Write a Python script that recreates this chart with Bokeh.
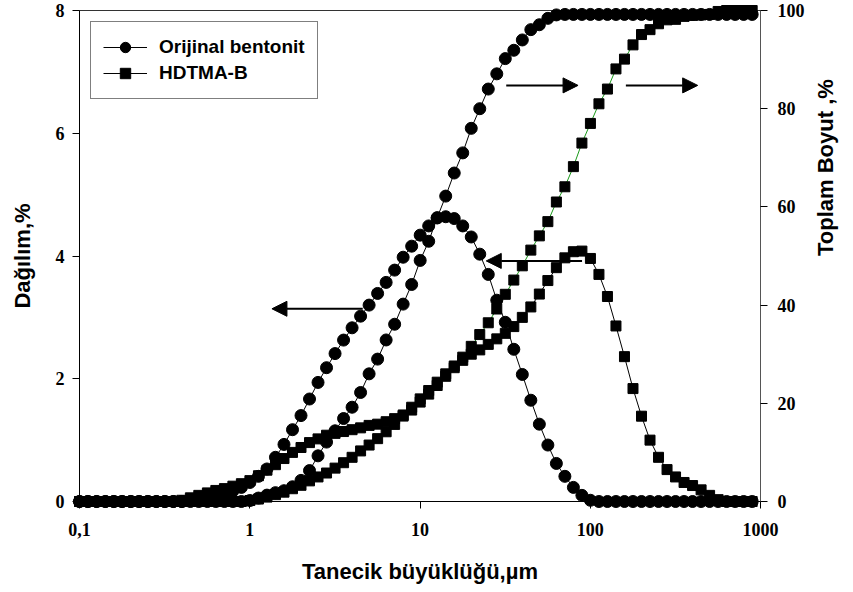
import math
from bokeh.plotting import figure
from bokeh.models import (Range1d, LinearAxis, FixedTicker, Arrow, NormalHead,
                          Legend, LegendItem, ColumnDataSource)
from bokeh.embed import file_html
from bokeh.resources import INLINE

# particle size classes (µm)
sizes = [0.100, 0.112, 0.126, 0.142, 0.159, 0.178, 0.200, 0.224, 0.252, 0.283,
         0.317, 0.356, 0.399, 0.448, 0.502, 0.564, 0.632, 0.710, 0.796, 0.893,
         1.002, 1.125, 1.262, 1.416, 1.589, 1.783, 2.000, 2.244, 2.518, 2.825,
         3.170, 3.557, 3.991, 4.477, 5.024, 5.637, 6.325, 7.096, 7.962, 8.934,
         10.024, 11.247, 12.619, 14.159, 15.887, 17.825, 20.000, 22.440, 25.179, 28.251,
         31.698, 35.566, 39.905, 44.774, 50.238, 56.368, 63.246, 70.963, 79.621, 89.337,
         100.237, 112.468, 126.191, 141.589, 158.866, 178.250, 200.000, 224.404, 251.785, 282.508,
         316.979, 355.656, 399.052, 447.744, 502.377, 563.677, 632.456, 709.627, 796.214, 893.367]

# Orijinal bentonit – distribution (%), left axis
orijinal_dist = [0, 0, 0, 0, 0, 0, 0, 0, 0, 0,
                 0, 0, 0, 0.02, 0.05, 0.08, 0.11, 0.14, 0.17, 0.23,
                 0.31, 0.41, 0.53, 0.72, 0.93, 1.17, 1.40, 1.67, 1.94, 2.18,
                 2.41, 2.63, 2.83, 3.02, 3.20, 3.39, 3.57, 3.77, 3.98, 4.16,
                 4.34, 4.49, 4.62, 4.64, 4.61, 4.49, 4.31, 4.03, 3.70, 3.28,
                 2.92, 2.48, 2.07, 1.65, 1.26, 0.92, 0.62, 0.41, 0.23, 0.10,
                 0.02, 0, 0, 0, 0, 0, 0, 0, 0, 0,
                 0, 0, 0, 0, 0, 0, 0, 0, 0, 0]

# Orijinal bentonit – cumulative (%), right axis
orijinal_cum = [0, 0, 0, 0, 0, 0, 0, 0, 0, 0,
                0, 0, 0, 0, 0, 0, 0, 0, 0, 0,
                0.2, 0.7, 1.3, 1.8, 2.2, 3.0, 4.3, 6.3, 9.3, 12.1,
                14.4, 16.9, 19.2, 22.2, 26.0, 29.0, 32.9, 36.1, 40.2, 44.2,
                49.1, 53.0, 57.8, 62.2, 66.9, 71.0, 76.0, 80.0, 84.0, 87.1,
                90.2, 91.9, 94.0, 96.1, 97.1, 98.4, 99.1, 99.2, 99.2, 99.2,
                99.2, 99.2, 99.2, 99.2, 99.2, 99.2, 99.2, 99.2, 99.2, 99.2,
                99.2, 99.2, 99.2, 99.2, 99.2, 99.2, 99.2, 99.2, 99.2, 99.2]

# HDTMA-B – distribution (%), left axis
hdtma_dist = [0, 0, 0, 0, 0, 0, 0, 0, 0, 0,
              0, 0, 0.02, 0.06, 0.10, 0.14, 0.18, 0.21, 0.25, 0.29,
              0.34, 0.42, 0.51, 0.60, 0.70, 0.80, 0.88, 0.96, 1.02, 1.08,
              1.11, 1.14, 1.17, 1.20, 1.24, 1.26, 1.30, 1.35, 1.41, 1.49,
              1.62, 1.75, 1.89, 2.04, 2.18, 2.30, 2.40, 2.47, 2.56, 2.65,
              2.74, 2.85, 3.00, 3.17, 3.38, 3.60, 3.81, 3.97, 4.07, 4.08,
              3.96, 3.70, 3.34, 2.86, 2.36, 1.84, 1.39, 1.00, 0.72, 0.52,
              0.40, 0.31, 0.26, 0.19, 0.10, 0.03, 0, 0, 0, 0]

# HDTMA-B – cumulative (%), right axis
hdtma_cum = [0, 0, 0, 0, 0, 0, 0, 0, 0, 0,
             0, 0, 0, 0, 0, 0, 0, 0, 0, 0,
             0.2, 0.5, 0.9, 1.4, 1.9, 2.6, 3.3, 4.2, 5.0, 5.8,
             6.8, 7.9, 9.0, 10.3, 11.5, 12.8, 14.2, 15.7, 17.4, 19.2,
             20.9, 22.6, 24.3, 26.0, 27.6, 29.4, 31.6, 34.0, 36.4, 39.2,
             42.2, 45.1, 48.0, 51.2, 54.1, 57.0, 61.0, 64.1, 68.2, 73.0,
             77.0, 81.0, 84.0, 88.1, 90.1, 93.0, 95.1, 96.1, 97.3, 98.1,
             98.2, 98.8, 99.0, 99.1, 99.2, 99.8, 100, 100, 100, 100]

x_ticks = [0.1, 1, 10, 100, 1000]
x_tick_labels = ["0,1", "1", "10", "100", "1000"]
left_ticks = [0, 2, 4, 6, 8]
right_ticks = [0, 20, 40, 60, 80, 100]

src = ColumnDataSource(dict(size=sizes, cd=orijinal_dist, cc=orijinal_cum,
                            sd=hdtma_dist, sc=hdtma_cum))

p = figure(width=853, height=592, x_axis_type="log",
           x_range=Range1d(0.1, 1000), y_range=Range1d(0, 8),
           output_backend="svg", toolbar_location=None,
           min_border_left=79, min_border_right=91,
           min_border_top=10, min_border_bottom=91)
p.extra_y_ranges = {"cum": Range1d(0, 100)}
p.xgrid.visible = False
p.ygrid.visible = False
p.outline_line_color = "#333333"
p.outline_line_width = 1
p.background_fill_color = "white"
p.border_fill_color = "white"

p.xaxis.ticker = FixedTicker(ticks=x_ticks, minor_ticks=[])
p.xaxis.major_label_overrides = {float(t): l for t, l in zip(x_ticks, x_tick_labels)}
p.xaxis.axis_label = "Tanecik büyüklüğü,µm"
p.yaxis.ticker = FixedTicker(ticks=left_ticks, minor_ticks=[])
p.yaxis.axis_label = "Dağılım,%"

right = LinearAxis(y_range_name="cum", ticker=FixedTicker(ticks=right_ticks, minor_ticks=[]),
                   axis_label="Toplam Boyut ,%")
p.add_layout(right, "right")
try:
    right.axis_label_orientation = math.pi / 2
except Exception:
    pass

for ax in [p.xaxis[0], p.yaxis[0], right]:
    ax.major_label_text_font = "Liberation Serif"
    ax.major_label_text_font_style = "bold"
    ax.major_label_text_font_size = "18px"
    ax.major_label_text_color = "black"
    ax.axis_label_text_font = "Liberation Sans"
    ax.axis_label_text_font_style = "bold"
    ax.axis_label_text_font_size = "22px"
    ax.axis_label_text_color = "black"
    ax.major_tick_out = 7
    ax.major_tick_in = 0
    ax.minor_tick_out = 0
    ax.minor_tick_in = 0
    ax.axis_line_color = "black"
    ax.major_tick_line_color = "black"
    ax.major_label_standoff = 8

p.xaxis[0].major_label_standoff = 14
p.xaxis[0].axis_label_standoff = 20
p.yaxis[0].axis_label_standoff = 18
right.major_label_standoff = 10
right.axis_label_standoff = 18
right.axis_line_color = "#555555"

# series
l_cd = p.line("size", "cd", source=src, line_color="black", line_width=1, level="overlay")
l_cc = p.line("size", "cc", source=src, line_color="black", line_width=1,
              y_range_name="cum", level="overlay")
l_sd = p.line("size", "sd", source=src, line_color="black", line_width=1, level="overlay")
l_sc = p.line("size", "sc", source=src, line_color="#1a9a1a", line_width=1,
              y_range_name="cum", level="overlay")

s_cd = p.scatter("size", "cd", source=src, marker="circle", size=12,
                 fill_color="black", line_color="black", level="overlay")
s_cc = p.scatter("size", "cc", source=src, marker="circle", size=12,
                 fill_color="black", line_color="black", y_range_name="cum", level="overlay")
s_sd = p.scatter("size", "sd", source=src, marker="square", size=10,
                 fill_color="black", line_color="black", level="overlay")
s_sc = p.scatter("size", "sc", source=src, marker="square", size=10,
                 fill_color="black", line_color="black", y_range_name="cum", level="overlay")

# arrows pointing to the relevant axis
def head():
    return NormalHead(size=15, fill_color="black", line_color="black")

p.add_layout(Arrow(end=head(), x_start=4.61, y_start=3.14, x_end=1.35, y_end=3.14,
                   line_width=2, line_color="black"))
p.add_layout(Arrow(end=head(), x_start=89.5, y_start=3.92, x_end=24.5, y_end=3.92,
                   line_width=2, line_color="black"))
p.add_layout(Arrow(end=head(), x_start=32.1, y_start=6.78, x_end=84.8, y_end=6.78,
                   line_width=2, line_color="black"))
p.add_layout(Arrow(end=head(), x_start=161.9, y_start=6.78, x_end=427.6, y_end=6.78,
                   line_width=2, line_color="black"))

legend = Legend(items=[LegendItem(label="Orijinal bentonit", renderers=[l_cd, s_cd]),
                       LegendItem(label="HDTMA-B", renderers=[l_sd, s_sd])],
                location=(11, 402), orientation="vertical",
                border_line_color="black", border_line_width=1,
                background_fill_color="white", background_fill_alpha=1,
                padding=12, spacing=0, margin=0,
                glyph_width=44, glyph_height=26, label_height=26,
                label_standoff=12,
                label_text_font="Liberation Sans", label_text_font_style="bold",
                label_text_font_size="19px", label_text_color="black")
p.add_layout(legend)

open("out.html", "w").write(file_html(p, INLINE))
